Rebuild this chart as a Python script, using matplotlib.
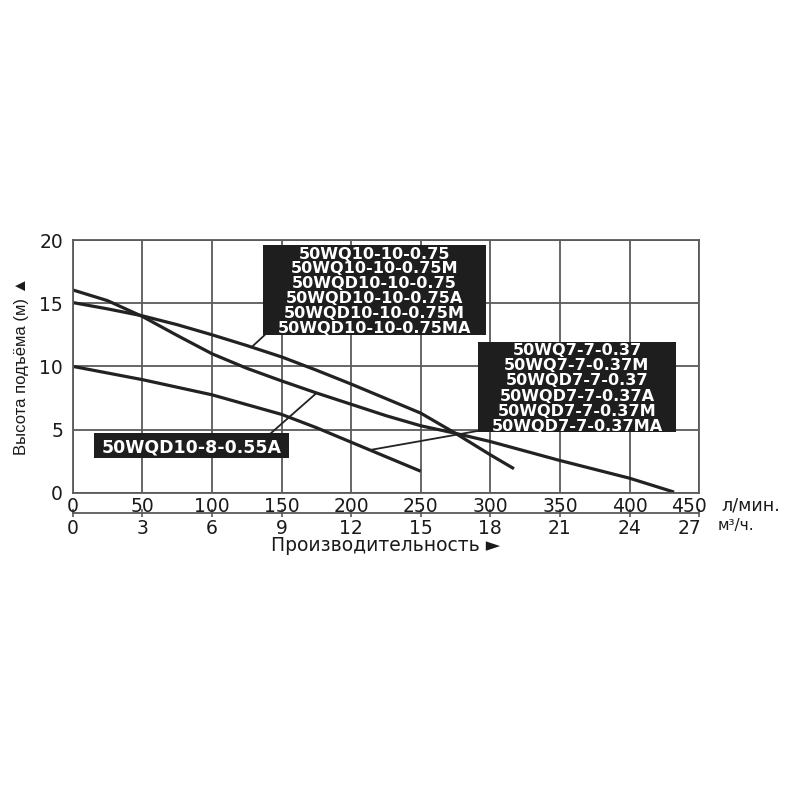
import numpy as np
import matplotlib
matplotlib.use('Agg')
import matplotlib.pyplot as plt
import matplotlib.transforms as mtransforms
from matplotlib.patches import Rectangle

# curves: flow in l/min, head in m
flow_a = [0, 25, 50, 75, 100, 125, 150, 175, 200, 225, 250, 275, 300, 317]
head_a = [15.05, 14.55, 14.0, 13.3, 12.5, 11.65, 10.75, 9.7, 8.6, 7.45, 6.3, 4.7, 3.0, 1.9]

flow_b = [0, 25, 50, 75, 100, 125, 150, 175, 200, 225, 250, 275, 300, 350, 400, 432]
head_b = [16.05, 15.2, 13.95, 12.45, 11.0, 9.85, 8.85, 7.9, 7.0, 6.1, 5.3, 4.7, 4.05, 2.55, 1.15, 0.05]

flow_c = [0, 50, 100, 150, 175, 200, 225, 250]
head_c = [10.0, 8.95, 7.75, 6.2, 5.15, 4.0, 2.85, 1.7]

labels_075 = ['50WQ10-10-0.75', '50WQ10-10-0.75M', '50WQD10-10-0.75',
              '50WQD10-10-0.75A', '50WQD10-10-0.75M', '50WQD10-10-0.75MA']
labels_037 = ['50WQ7-7-0.37', '50WQ7-7-0.37M', '50WQD7-7-0.37',
              '50WQD7-7-0.37A', '50WQD7-7-0.37M', '50WQD7-7-0.37MA']
label_055 = '50WQD10-8-0.55A'

x_ticks = list(range(0, 451, 50))
y_ticks = [0, 5, 10, 15, 20]
m3_ticks = list(range(0, 28, 3))

grid_col = '#5a5a5a'
line_col = '#222222'
box_col = '#1e1e1e'
txt_col = '#1a1a1a'

fig = plt.figure(figsize=(8, 8), dpi=100)
ax = fig.add_axes([0.0909, 0.3841, 0.783, 0.3159])
ax.set_xlim(0, 450)
ax.set_ylim(0, 20)
ax.set_xticks(x_ticks)
ax.set_yticks(y_ticks)
ax.grid(True, color=grid_col, linewidth=1.3)
ax.set_axisbelow(True)
for s in ax.spines.values():
    s.set_color(grid_col)
    s.set_linewidth(1.3)
ax.tick_params(length=0, labelsize=13.5, colors=txt_col, pad=3)
ax.tick_params(axis='y', pad=7)

ax.plot(flow_a, head_a, color=line_col, lw=2.3, solid_capstyle='butt')
ax.plot(flow_b, head_b, color=line_col, lw=2.3, solid_capstyle='butt')
ax.plot(flow_c, head_c, color=line_col, lw=2.3, solid_capstyle='butt')


def label_box(x0, x1, y0, y1, lines, fs):
    ax.add_patch(Rectangle((x0, y0), x1 - x0, y1 - y0, facecolor=box_col,
                           edgecolor='none', zorder=4, clip_on=False))
    n = len(lines)
    pad = (y1 - y0) / n / 2
    ys = np.linspace(y1 - pad, y0 + pad, n)
    for t, yy in zip(lines, ys):
        ax.text((x0 + x1) / 2, yy, t, color='white', fontsize=fs, fontweight='bold',
                ha='center', va='center_baseline', zorder=5, family='DejaVu Sans')


def leader(x_from, y_from, x_to, flow, head):
    ax.annotate('', xy=(x_to, np.interp(x_to, flow, head)), xytext=(x_from, y_from),
                arrowprops=dict(arrowstyle='-', color=line_col, lw=1.3,
                                shrinkA=0, shrinkB=0), zorder=3)


label_box(136.9, 296.8, 12.5, 19.6, labels_075, 11.6)
leader(138.1, 12.5, 128.5, flow_a, head_a)

label_box(290.8, 433.7, 4.79, 11.94, labels_037, 11.6)
leader(292.5, 4.92, 213.5, flow_c, head_c)

label_box(15.5, 155.1, 2.78, 4.76, [label_055], 12.5)
leader(136.9, 4.18, 175.2, flow_b, head_b)

# second scale: m3/h under the l/min axis
sec = ax.secondary_xaxis(-0.0815, functions=(lambda q: q * 0.06, lambda q: q / 0.06))
sec.set_xticks(m3_ticks)
sec.spines['bottom'].set_color(grid_col)
sec.spines['bottom'].set_linewidth(1.3)
sec.tick_params(direction='inout', length=6, width=1.2, color=grid_col,
                labelsize=13.5, labelcolor=txt_col, pad=1)

# last labels sit a bit left of their tick in the original
shift = mtransforms.ScaledTranslation(-10 / 100, 0, fig.dpi_scale_trans)
for lab in [ax.get_xticklabels()[-1], sec.get_xticklabels()[-1]]:
    lab.set_transform(lab.get_transform() + shift)

ax.text(1.036, -0.05, 'л/мин.', transform=ax.transAxes, fontsize=12.5,
        ha='left', va='center', color=txt_col)
ax.text(1.03, -0.13, 'м³/ч.', transform=ax.transAxes, fontsize=11,
        ha='left', va='center', color=txt_col)
ax.text(0.5, -0.21, 'Производительность ►', transform=ax.transAxes, fontsize=13.5,
        ha='center', va='center', color=txt_col)
ax.text(-0.081, 0.5, 'Высота подъёма (м) ▲', transform=ax.transAxes, fontsize=12,
        rotation=90, ha='center', va='center', color=txt_col,
        family=['Liberation Sans', 'DejaVu Sans'])

fig.savefig('out.png', dpi=100, facecolor='white')
